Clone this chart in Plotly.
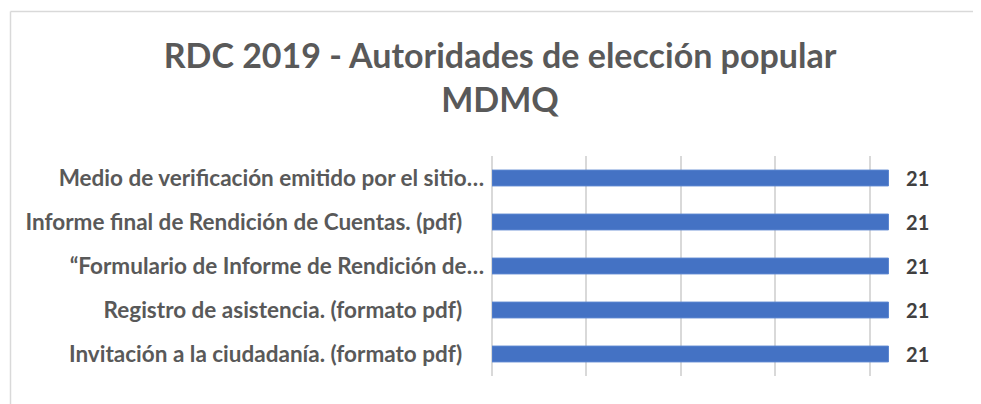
import plotly.graph_objects as go

# ── data (top to bottom as shown) ──────────────────────────────────────────
categories = [
    "Medio de verificación emitido por el sitio…",
    "Informe final de Rendición de Cuentas. (pdf)\u00a0\u00a0\u00a0\u00a0",
    "“Formulario de Informe de Rendición de…",
    "Registro de asistencia. (formato pdf)\u00a0\u00a0\u00a0\u00a0",
    "Invitación a la ciudadanía. (formato pdf)\u00a0\u00a0\u00a0\u00a0",
]
values = [21, 21, 21, 21, 21]

TITLE = "RDC 2019 - Autoridades de elección popular<br>MDMQ"

FONT = "Lato, Open Sans, sans-serif"
GREY = "#595959"
DARK = "#404040"
BLUE = "#4472C4"
GRID = "#d9d9d9"

# page body has an 8px margin, so the figure is sized to the visible area
W, H = 973, 396
ML, MR, MT, MB = 484, 17, 148, 28
PW, PH = W - ML - MR, H - MT - MB


def px_x(px):
    return (px - ML) / PW


def px_y(py):
    return (H - MB - py) / PH


fig = go.Figure(
    go.Bar(
        x=values,
        y=categories,
        orientation="h",
        width=0.36,
        marker=dict(color=BLUE, line=dict(color="#5b86d0", width=1)),
        text=values,
        texttemplate="\u00a0\u00a0\u00a0%{x}",
        textposition="outside",
        constraintext="none",
        textfont=dict(family=FONT, size=20, color=DARK, weight="bold"),
        cliponaxis=False,
        hoverinfo="skip",
    )
)

fig.update_layout(
    width=W,
    height=H,
    margin=dict(l=ML, r=MR, t=MT, b=MB, autoexpand=False),
    paper_bgcolor="white",
    plot_bgcolor="white",
    showlegend=False,
    title=dict(
        text=TITLE,
        x=492 / W,
        xanchor="center",
        y=1 - 60 / H,
        yanchor="top",
        font=dict(family=FONT, size=34, color=GREY, weight="bold"),
    ),
    font=dict(family=FONT, color=GREY),
    xaxis=dict(
        range=[0, 25],
        dtick=5,
        showgrid=True,
        gridcolor=GRID,
        gridwidth=1.5,
        showticklabels=False,
        zeroline=True,
        zerolinecolor=GRID,
        zerolinewidth=1.5,
        showline=False,
        fixedrange=True,
    ),
    yaxis=dict(
        autorange="reversed",
        tickfont=dict(family=FONT, size=22.5, color=GREY, weight="bold"),
        ticks="",
        ticklabelstandoff=7,
        showgrid=False,
        showline=False,
        fixedrange=True,
    ),
    shapes=[
        dict(type="line", xref="paper", yref="paper",
             x0=px_x(2.5), x1=px_x(W), y0=px_y(3.5), y1=px_y(3.5),
             line=dict(color="#d9d9d9", width=1.5)),
        dict(type="line", xref="paper", yref="paper",
             x0=px_x(2.5), x1=px_x(2.5), y0=px_y(3.5), y1=px_y(H),
             line=dict(color="#d9d9d9", width=1.5)),
    ],
)

fig.write_html("out.html")
